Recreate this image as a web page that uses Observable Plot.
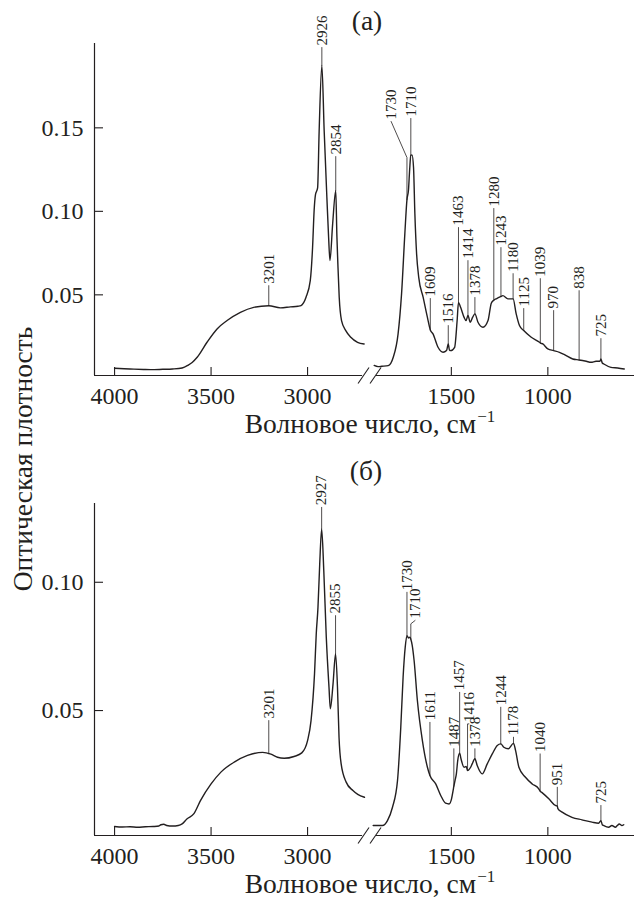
<!DOCTYPE html>
<html><head><meta charset="utf-8">
<script src="https://cdn.jsdelivr.net/npm/d3@7"></script>
<script src="https://cdn.jsdelivr.net/npm/@observablehq/plot@0.6"></script>
<style>
body{margin:0;background:#fff;}
#wrap{position:relative;width:635px;height:898px;overflow:hidden;font-family:"Liberation Serif","Times New Roman",serif;color:#231f20;}
#wrap > div{position:absolute;white-space:nowrap;line-height:1;}
#wrap svg{overflow:visible;}
#wrap svg, #wrap svg text{font-family:"Liberation Serif","Times New Roman",serif !important;}
#wrap svg g[aria-label="x-axis tick label"], #wrap svg g[aria-label="y-axis tick label"]{font-size:24px;}
#wrap svg g[aria-label="text"]{font-size:15px;}
.lbl{font-size:27.5px;}
#wrap > div.xl{line-height:0.8;}
sup{font-size:17px;vertical-align:0;position:relative;top:-11px;margin-left:1px;line-height:0;}
</style></head><body><div id="wrap"></div>
<script>
// ---------- data: panel (a) ----------
const waveA_high = [4000,3950,3900,3850,3813,3750,3700,3650,3620,3598,3572,3521,3469,3417,3348,3279,3201,3141,3089,3050,3034,3008,2986,2974,2966,2959,2948,2940,2926,2914,2900,2891,2884,2870,2854,2848,2843,2836,2824,2802,2776,2741,2707];
const absA_high  = [.0060,.0057,.0055,.0053,.0052,.0054,.0056,.0062,.0078,.0095,.0126,.0216,.0296,.0346,.0395,.0425,.0435,.0422,.0428,.0432,.0436,.0486,.0585,.0785,.1005,.1100,.1140,.1480,.1873,.1484,.1084,.0845,.0705,.0925,.1124,.0850,.0685,.0485,.0346,.0286,.0246,.0216,.0206];
const waveA_low = [1900,1880,1860,1827,1801,1776,1758,1741,1730,1722,1716,1710,1704,1696,1689,1680,1669,1646,1624,1609,1595,1569,1543,1525,1516,1510,1503,1483,1470,1463,1452,1434,1424,1414,1402,1390,1378,1362,1336,1310,1293,1280,1265,1243,1233,1207,1180,1164,1147,1125,1086,1043,1039,1026,1000,970,940,914,871,838,801,776,750,730,725,718,710,673,638,604];
const absA_low  = [.0077,.0070,.0072,.0076,.0126,.0266,.0506,.0865,.1070,.1130,.1250,.1335,.1338,.1264,.0985,.0745,.0605,.0485,.0365,.0290,.0266,.0186,.0156,.0166,.0206,.0170,.0166,.0186,.0346,.0455,.0425,.0365,.0346,.0376,.0336,.0365,.0386,.0336,.0306,.0346,.0450,.0468,.0478,.0490,.0495,.0476,.0476,.0386,.0316,.0286,.0246,.0216,.0212,.0206,.0176,.0166,.0156,.0142,.0116,.0110,.0102,.0096,.0102,.0102,.0116,.0092,.0086,.0066,.0062,.0056];
const labelsA   = ["3201","2926","2854","1730","1710","1609","1516","1463","1414","1378","1280","1243","1180","1125","1039","970","838","725"];
const peaksA    = [3201,2926,2854,1730,1710,1609,1516,1463,1414,1378,1280,1243,1180,1125,1039,970,838,725];
const topsA     = [.0555,.1981,.1328,.1322,.1556,.0478,.0316,.0903,.0705,.0484,.1017,.0783,.0627,.0418,.0597,.0406,.0525,.0238];
const textWaveA = [3201,2926,2854,1812,1710,1609,1516,1463,1414,1378,1280,1243,1180,1125,1039,970,838,725];
const textAbsA  = [.0555,.1981,.1328,.1538,.1556,.0478,.0316,.0903,.0705,.0484,.1017,.0783,.0627,.0418,.0597,.0406,.0525,.0238];

// ---------- data: panel (б) ----------
const waveB_high = [4000,3960,3920,3880,3840,3800,3770,3760,3745,3730,3700,3670,3650,3624,3590,3555,3500,3449,3380,3311,3233,3190,3156,3121,3070,3030,3000,2982,2964,2955,2946,2937,2927,2916,2903,2889,2882,2868,2855,2845,2837,2826,2800,2765,2740,2705];
const absB_high  = [.0048,.0046,.0047,.0045,.0047,.0048,.0050,.0055,.0057,.0052,.0050,.0052,.0058,.0078,.0097,.0149,.0214,.0260,.0299,.0325,.0337,.0330,.0318,.0314,.0321,.0335,.0383,.0461,.0643,.0799,.0903,.1072,.1208,.1046,.0786,.0591,.0507,.0604,.0721,.0591,.0396,.0292,.0221,.0188,.0173,.0162];
const waveB_low = [1905,1857,1831,1805,1779,1762,1750,1739,1730,1722,1715,1710,1703,1693,1676,1650,1624,1611,1581,1555,1530,1512,1499,1491,1487,1481,1474,1467,1457,1450,1434,1423,1416,1400,1392,1378,1366,1340,1314,1288,1262,1244,1228,1205,1178,1167,1150,1116,1081,1047,1040,1030,995,961,951,948,926,875,823,771,737,725,718,711,685,668,650,640,630,616,607];
const absB_low  = [.0052,.0052,.0071,.0123,.0227,.0435,.0630,.0747,.0792,.0783,.0786,.0778,.0755,.0695,.0539,.0383,.0279,.0247,.0214,.0169,.0139,.0136,.0156,.0188,.0205,.0227,.0253,.0305,.0334,.0312,.0279,.0282,.0266,.0279,.0292,.0312,.0286,.0253,.0292,.0331,.0364,.0370,.0357,.0351,.0372,.0344,.0279,.0240,.0214,.0195,.0186,.0180,.0156,.0130,.0128,.0118,.0104,.0084,.0074,.0065,.0061,.0071,.0055,.0052,.0045,.0052,.0045,.0052,.0058,.0052,.0055];
const labelsB   = ["3201","2927","2855","1730","1710","1611","1487","1457","1416","1378","1244","1178","1040","951","725"];
const peaksB    = [3201,2927,2855,1730,1710,1611,1487,1457,1416,1378,1244,1178,1040,951,725];
const topsB     = [.0461,.1292,.0870,.0961,.0838,.0454,.0351,.0571,.0448,.0351,.0513,.0396,.0331,.0201,.0130];
const textWaveB = [3201,2927,2855,1730,1688,1611,1487,1457,1409,1378,1244,1178,1040,951,725];
const textAbsB  = [.0461,.1292,.0870,.0961,.0851,.0454,.0351,.0571,.0448,.0351,.0513,.0396,.0331,.0201,.0130];

// ---------- axis ----------
const xTickWaves  = [4000,3500,3000,1500,1000];
const xTickLabels = ["4000","3500","3000","1500","1000"];
const yTicksA = [0.05,0.10,0.15];
const yTicksB = [0.05,0.10];
const yDomainA = [0.0017,0.2005];
const yDomainB = [0.0013,0.1307];

// broken axis: high-wavenumber segment and low-wavenumber segment
const splitWave = 2300, gapShift = 755, origin = 4000;
const toU = w => w > splitWave ? origin - w : origin - w - gapShift;
const xEnds = [4104, 551];          // wavenumbers at the axis ends
const segEnds = [2715, 1888];        // where the axis line is broken

function interp(ws, vs, w) {
  for (let i = 0; i < ws.length - 1; i++) {
    const a = ws[i], b = ws[i + 1];
    if ((w <= a && w >= b) || (w >= a && w <= b)) {
      const t = a === b ? 0 : (w - a) / (b - a);
      return vs[i] + t * (vs[i + 1] - vs[i]);
    }
  }
  return vs[vs.length - 1];
}

const serif = "Liberation Serif, Times New Roman, serif";

function panel({high, low, labels, peaks, tops, textWaves, textAbs, yDomain, yTicks, height, marginTop, marginBottom}) {
  const spec = [
    ...high[0].map((w, i) => ({seg: "h", u: toU(w), v: high[1][i]})),
    ...low[0].map((w, i) => ({seg: "l", u: toU(w), v: low[1][i]}))
  ];
  const curveAt = w => w > splitWave ? interp(high[0], high[1], w) : interp(low[0], low[1], w);
  const leaders = [];
  const texts = [];
  labels.forEach((lab, i) => {
    const w = peaks[i];
    leaders.push({k: lab, u: toU(w), v: curveAt(w)});
    leaders.push({k: lab, u: toU(w), v: tops[i]});
    const tw = textWaves[i], ta = textAbs[i];
    if (tw !== w || ta !== tops[i]) leaders.push({k: lab, u: toU(tw), v: ta});
    texts.push({label: lab, u: toU(tw), v: ta});
  });
  const innerH = height - marginTop - marginBottom;
  const yPerPx = (yDomain[1] - yDomain[0]) / innerH;
  const uPerPx = (toU(xEnds[1]) - toU(xEnds[0])) / (635 - 94 - 1);
  const breakU = (toU(segEnds[0]) + toU(segEnds[1])) / 2;
  const slashes = [-6, 6].map(o => ({
    x1: breakU + (o - 5.5) * uPerPx, x2: breakU + (o + 5.5) * uPerPx,
    y1: yDomain[0] - 8 * yPerPx, y2: yDomain[0] + 8 * yPerPx
  }));
  const ink = "#231f20";
  const tickU = xTickWaves.map(toU);
  return Plot.plot({
    width: 635, height, marginLeft: 94, marginRight: 1, marginTop, marginBottom,
    style: {fontFamily: serif, color: ink, background: "transparent"},
    x: {domain: [toU(xEnds[0]), toU(xEnds[1])], axis: null},
    y: {domain: yDomain, axis: null},
    marks: [
      Plot.axisX(tickU, {tickSize: -8, tickPadding: 19, fontSize: 24, fontFamily: serif, stroke: ink, strokeWidth: 1.1,
        tickFormat: u => xTickLabels[tickU.indexOf(u)]}),
      Plot.axisY(yTicks, {tickSize: -9, tickPadding: 20, fontSize: 24, fontFamily: serif, stroke: ink, strokeWidth: 1.1,
        tickFormat: d3.format(".2f")}),
      Plot.ruleX([toU(xEnds[0])], {y1: yDomain[0], y2: yDomain[1], stroke: ink, strokeWidth: 1.2}),
      Plot.ruleY([yDomain[0]], {x1: toU(xEnds[0]), x2: toU(segEnds[0]), stroke: ink, strokeWidth: 1.2}),
      Plot.ruleY([yDomain[0]], {x1: toU(segEnds[1]), x2: toU(xEnds[1]), stroke: ink, strokeWidth: 1.2}),
      Plot.link(slashes, {x1: "x1", x2: "x2", y1: "y1", y2: "y2", stroke: ink, strokeWidth: 1.1}),
      Plot.line(leaders, {x: "u", y: "v", z: "k", stroke: ink, strokeWidth: 0.8}),
      Plot.line(spec, {x: "u", y: "v", z: "seg", curve: "monotone-x", stroke: ink, strokeWidth: 1.4}),
      Plot.text(texts, {x: "u", y: "v", text: "label", rotate: -90, textAnchor: "start", lineAnchor: "middle",
        dy: -2, fontSize: 15, fontFamily: serif, fill: ink})
    ]
  });
}

const wrap = document.getElementById("wrap");
function place(el, left, top) {
  const d = document.createElement("div");
  d.style.left = left + "px"; d.style.top = top + "px";
  d.appendChild(el); wrap.appendChild(d); return d;
}
const svgA = panel({high: [waveA_high, absA_high], low: [waveA_low, absA_low], labels: labelsA, peaks: peaksA, tops: topsA,
  textWaves: textWaveA, textAbs: textAbsA, yDomain: yDomainA, yTicks: yTicksA, height: 440, marginTop: 43, marginBottom: 65});
place(svgA, 0, 0);
const svgB = panel({high: [waveB_high, absB_high], low: [waveB_low, absB_low], labels: labelsB, peaks: peaksB, tops: topsB,
  textWaves: textWaveB, textAbs: textAbsB, yDomain: yDomainB, yTicks: yTicksB, height: 458, marginTop: 63, marginBottom: 63});
place(svgB, 0, 440);

function textDiv(html, cls, style) {
  const d = document.createElement("div");
  d.className = cls; d.innerHTML = html; Object.assign(d.style, style); wrap.appendChild(d); return d;
}
textDiv("(а)", "lbl", {left: "367px", top: "6.5px", transform: "translateX(-50%)"});
textDiv("(б)", "lbl", {left: "366px", top: "457px", transform: "translateX(-50%)"});
textDiv("Волновое число, см<sup>−1</sup>", "lbl xl", {left: "370px", top: "413px", transform: "translateX(-50%)"});
textDiv("Волновое число, см<sup>−1</sup>", "lbl xl", {left: "370px", top: "872.5px", transform: "translateX(-50%)"});
textDiv("Оптическая плотность", "lbl", {left: "23px", top: "459px", transform: "translate(-50%,-50%) rotate(-90deg)"});
</script></body></html>
